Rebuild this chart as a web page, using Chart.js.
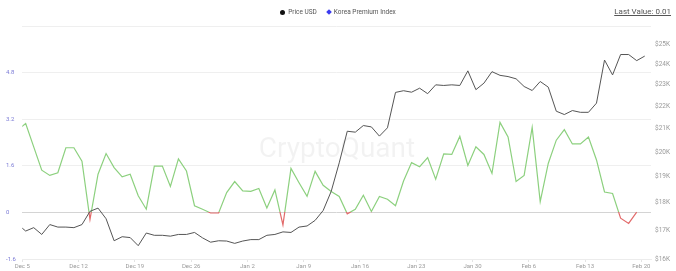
<!DOCTYPE html>
<html>
<head>
<meta charset="utf-8">
<script src="https://cdn.jsdelivr.net/npm/chart.js@4"></script>
<style>
  html, body { margin: 0; padding: 0; background: #fff; }
  #wrap { position: relative; width: 676px; height: 271px; font-family: Roboto, sans-serif; }
  #legend { position: absolute; top: 8px; left: 0; width: 676px; text-align: center; font-size: 6.5px; color: #555; }
  #legend span { margin: 0 5px; }
  .dot { display: inline-block; width: 5px; height: 5px; border-radius: 50%; background: #111; vertical-align: -0.5px; margin-right: 3px; }
  .dia { display: inline-block; width: 4px; height: 4px; background: #3b3bf0; transform: rotate(45deg); vertical-align: 0px; margin-right: 3px; }
  #last { position: absolute; top: 7px; right: 5px; font-size: 8px; color: #555; text-decoration: underline; }
</style>
</head>
<body>
<div id="wrap">
  <canvas id="myChart" width="676" height="271"></canvas>
  <div id="legend"><span><i class="dot"></i>Price USD</span><span><i class="dia"></i>Korea Premium Index</span></div>
  <div id="last">Last Value: 0.01</div>
</div>
<script>
// daily samples, first one (day -1) falls just left of the axis
const sampleOffset = 0.42;
const tickLabels = ['Dec 5', 'Dec 12', 'Dec 19', 'Dec 26', 'Jan 2', 'Jan 9', 'Jan 16', 'Jan 23', 'Jan 30', 'Feb 6', 'Feb 13', 'Feb 20'];

const premiumIndex = [
  2.83, 3.05, 2.25, 1.45, 1.27, 1.36, 2.22, 2.22, 1.76, -0.24,
  1.31, 2.02, 1.54, 1.22, 1.31, 0.57, 0.11, 1.59, 1.59, 0.89,
  1.84, 1.42, 0.23, 0.11, -0.02, -0.02, 0.68, 1.06, 0.74, 0.72,
  0.82, 0.15, 0.77, -0.43, 1.51, 1.02, 0.55, 1.41, 0.93, 0.72,
  0.55, -0.05, 0.11, 0.59, 0.03, 0.55, 0.45, 0.23, 1.08, 1.71,
  1.57, 1.88, 1.14, 2.01, 1.99, 2.61, 1.61, 2.25, 1.99, 1.34,
  3.09, 2.59, 1.06, 1.27, 2.92, 0.37, 1.68, 2.48, 2.84, 2.35,
  2.35, 2.59, 1.80, 0.70, 0.65, -0.20, -0.38, 0.01
];

const priceUsd = [
  17200, 16960, 17080, 16840, 17190, 17100, 17100, 17080, 17190, 17670,
  17790, 17400, 16620, 16760, 16730, 16450, 16890, 16810, 16810, 16780,
  16840, 16840, 16910, 16720, 16570, 16620, 16610, 16530, 16610, 16660,
  16660, 16810, 16840, 16930, 16910, 17100, 17140, 17340, 17700, 18420,
  19550, 20880, 20840, 21130, 21070, 20670, 21030, 22640, 22720, 22650,
  22840, 22580, 23000, 22970, 23000, 22970, 23680, 22770, 23080, 23640,
  23460, 23400, 23290, 22920, 22730, 23160, 22890, 21770, 21620, 21800,
  21720, 21720, 22140, 24220, 23480, 24500, 24500, 24190, 24420
];

const green = '#8cd07e';
const red = '#e26a6a';

function toPoints(values) {
  return values.map((v, i) => ({ x: i - 1 + sampleOffset, y: v }));
}

// green above zero, red below
function premiumColor(ctx) {
  const chart = ctx.chart;
  const area = chart.chartArea;
  if (!area) return green;
  const y0 = chart.scales.y.getPixelForValue(0);
  const f = Math.min(Math.max((y0 - area.top) / (area.bottom - area.top), 0), 1);
  const g = chart.ctx.createLinearGradient(0, area.top, 0, area.bottom);
  g.addColorStop(0, green);
  g.addColorStop(f, green);
  g.addColorStop(f, red);
  g.addColorStop(1, red);
  return g;
}

const watermark = {
  id: 'watermark',
  beforeDatasetsDraw(chart) {
    const c = chart.ctx;
    c.save();
    c.font = '28px Roboto, sans-serif';
    c.fillStyle = 'rgba(0,0,0,0.05)';
    c.textAlign = 'center';
    c.textBaseline = 'alphabetic';
    c.fillText('CryptoQuant', 337, 157);
    c.restore();
  }
};

const tickFont = { family: 'Roboto, sans-serif', size: 6 };

const config = {
  type: 'line',
  data: {
    datasets: [
      {
        label: 'Price USD',
        data: toPoints(priceUsd),
        yAxisID: 'y1',
        borderColor: '#555555',
        borderWidth: 1,
        pointRadius: 0,
        tension: 0
      },
      {
        label: 'Korea Premium Index',
        data: toPoints(premiumIndex),
        yAxisID: 'y',
        borderColor: premiumColor,
        borderWidth: 1.2,
        pointRadius: 0,
        tension: 0
      }
    ]
  },
  options: {
    responsive: false,
    animation: false,
    layout: { padding: { top: 26, left: 6, right: 0, bottom: 0 } },
    plugins: {
      legend: { display: false },
      tooltip: { enabled: false }
    },
    scales: {
      x: {
        type: 'linear',
        min: 0,
        max: 78.2,
        afterBuildTicks: (axis) => {
          axis.ticks = tickLabels.map((_, k) => ({ value: k * 7 }));
        },
        afterFit: (axis) => { axis.height = 12; },
        ticks: {
          color: '#9a9a9a',
          font: tickFont,
          padding: 1,
          maxRotation: 0,
          autoSkip: false,
          callback: (v, i) => tickLabels[i]
        },
        grid: { drawOnChartArea: false, drawTicks: true, tickLength: 3, color: '#e4e4e4' },
        border: { color: '#ececec' }
      },
      y: {
        position: 'left',
        min: -1.6,
        max: 6.4,
        afterBuildTicks: (axis) => {
          axis.ticks = [-1.6, 0, 1.6, 3.2, 4.8, 6.4].map(v => ({ value: v }));
        },
        afterFit: (axis) => { axis.width = 16.3; },
        ticks: {
          color: '#7b7bd6',
          font: tickFont,
          crossAlign: 'far',
          padding: 2,
          callback: (v) => (v > 6 ? '' : String(Math.round(v * 10) / 10))
        },
        grid: {
          drawTicks: false,
          color: (ctx) => (ctx.tick && ctx.tick.value === 0 ? '#d4d4d4' : '#efefef'),
          borderDash: (ctx) => (ctx.tick && ctx.tick.value === 0 ? [3, 2] : [])
        },
        border: { display: false }
      },
      y1: {
        type: 'logarithmic',
        position: 'right',
        min: 16000,
        max: 26000,
        afterBuildTicks: (axis) => {
          axis.ticks = [16000, 17000, 18000, 19000, 20000, 21000, 22000, 23000, 24000, 25000].map(v => ({ value: v }));
        },
        afterFit: (axis) => { axis.width = 25; },
        ticks: {
          color: '#9a9a9a',
          font: { family: 'Roboto, sans-serif', size: 6.5 },
          padding: 4,
          callback: (v) => '$' + Math.round(v / 1000) + 'K'
        },
        grid: { display: false, drawTicks: false },
        border: { display: false }
      }
    }
  },
  plugins: [watermark]
};

const myChart = new Chart(document.getElementById('myChart'), config);
</script>
</body>
</html>
